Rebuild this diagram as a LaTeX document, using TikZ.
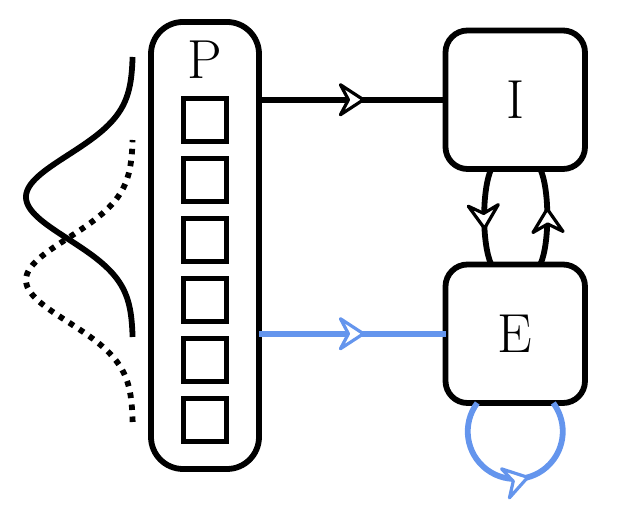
\documentclass[tikz,border=0pt]{standalone}
\usepackage{fontspec}
\usetikzlibrary{decorations.markings}
\definecolor{cblue}{HTML}{6495ED}
\begin{document}
\begin{tikzpicture}[x=1pt,y=1pt,
  thickline/.style={line width=5.8pt},
  box/.style={draw, line width=5.8pt, rounded corners=22pt, minimum width=139.5pt, minimum height=138.5pt, inner sep=0pt, outer sep=0pt, font=\fontsize{55}{60}\selectfont},
  cell/.style={draw, line width=5.8pt, minimum size=43pt, inner sep=0pt, outer sep=0pt},
  column/.style={draw, line width=5.8pt, rounded corners=32pt, minimum width=108pt, minimum height=447pt, inner sep=0pt, outer sep=0pt},
  label text/.style={inner sep=0pt, font=\fontsize{55}{60}\selectfont},
  headmark/.style={line width=3.2pt, fill=white, line join=round, solid},
  midarrow/.style 2 args={postaction={decorate}, decoration={markings, mark=at position #1 with {\draw[headmark, draw=#2] (-23pt,15pt) -- (0pt,0pt) -- (-23pt,-15pt) -- (-15pt,0pt) -- cycle;}}},
]
\useasboundingbox (0,0) rectangle (639,518);

% P column
\node[column] (P) at (205,272.5) {};
\node[label text] (Plab) at (205,458) {P};
\foreach \i/\yy in {1/398,2/338,3/278,4/218,5/158,6/98}
  \node[cell] (c\i) at (205,\yy) {};

% I and E boxes
\node[box] (I) at (515.25,418.25) {I};
\node[box] (E) at (515.25,184.25) {E};

% connectors
\draw[thickline, midarrow={0.56}{black}] (P.east |- I.west) -- (I.west);
\draw[thickline, cblue, midarrow={0.56}{cblue}] (P.east |- E.west) -- (E.west);
\draw[thickline, midarrow={0.62}{black}] ([xshift=-24pt]I.south) to[out=245,in=115,looseness=0.6] ([xshift=-24pt]E.north);
\draw[thickline, midarrow={0.58}{black}] ([xshift=25pt]E.north) to[out=65,in=295,looseness=0.6] ([xshift=25pt]I.south);
\draw[thickline, cblue, midarrow={0.56}{cblue}] ([xshift=-38pt]E.south) arc[start angle=143.13, end angle=396.87, radius=47.5pt];

% Gaussians
\draw[thickline] plot[domain=181:461, samples=120, variable=\t] ({133-107*exp(-((\t-321)/42)^2/2)},{\t});
\draw[line width=5.8pt, dash pattern=on 5.5pt off 6.5pt] plot[domain=96:378, samples=120, variable=\t] ({133-107*exp(-((\t-238)/42)^2/2)},{\t});
\end{tikzpicture}
\end{document}
